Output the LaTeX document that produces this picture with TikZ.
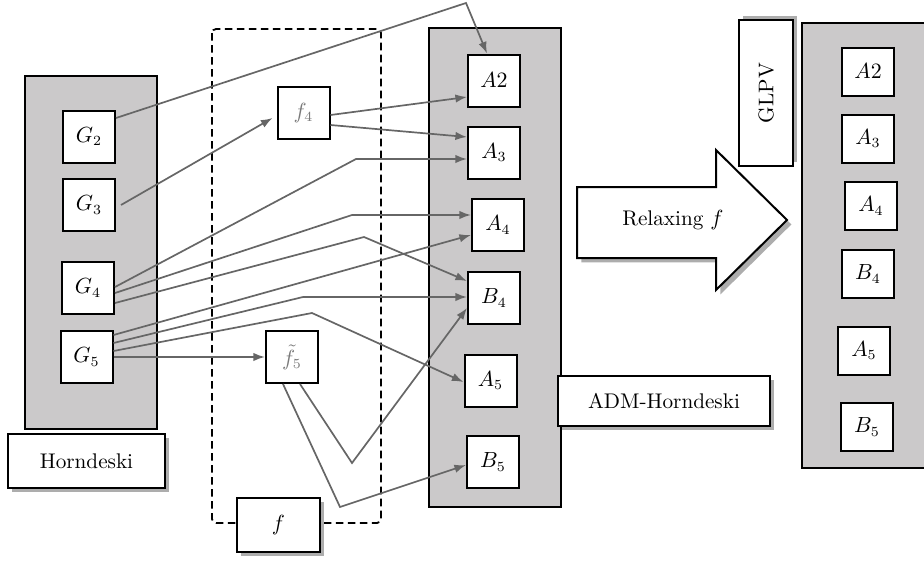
\documentclass[tikz,border=0pt]{standalone}
\usetikzlibrary{shadows,arrows.meta,calc}
\definecolor{panelgray}{HTML}{CBC9CA}
\definecolor{conngray}{HTML}{666666}
\definecolor{fgray}{HTML}{7A7A7A}
\tikzset{
  every node/.style={font=\fontsize{10.6pt}{12.7pt}\selectfont},
  panelbox/.style={draw=black, fill=panelgray, line width=0.9pt},
  vbox/.style={draw=black, fill=white, line width=1pt, minimum width=26pt, minimum height=26pt, inner sep=0pt},
  rbox/.style={vbox, minimum height=24pt},
  shad/.style={drop shadow={shadow xshift=2.2pt, shadow yshift=-2.2pt, fill=black!32, opacity=1}},
  upshad/.style={drop shadow={shadow xshift=2.2pt, shadow yshift=2.2pt, fill=black!32, opacity=1}},
  labelbox/.style={draw=black, fill=white, line width=1pt, inner sep=0pt, shad},
  cline/.style={draw=conngray, line width=0.85pt},
  carrow/.style={cline, -{Latex[length=5.8pt,width=4.2pt]}},
  dashbox/.style={draw=black, line width=0.9pt, dash pattern=on 3.8pt off 2.2pt, rounded corners=2pt},
}
\begin{document}
\begin{tikzpicture}[x=0.5pt,y=-0.5pt]
\useasboundingbox (0,0) rectangle (924,562);

% panels
\path[panelbox] (25,76) rectangle (157,429);
\path[panelbox] (429,28) rectangle (561,507);
\path[fill=panelgray] (802,23) rectangle (930,468);
\draw[line width=0.9pt] (930,23) -- (802,23) -- (802,468) -- (930,468);

% dashed group
\path[dashbox] (212,29) rectangle (381,523);

% Horndeski nodes
\node[vbox] (G2) at (89,136.5) {$G_2$};
\node[vbox] (G3) at (89,205) {$G_3$};
\node[vbox] (G4) at (88,288) {$G_4$};
\node[vbox] (G5) at (86.5,357) {$G_5$};
\node[labelbox, minimum width=78.5pt, minimum height=27pt] (horn) at (86.5,461) {Horndeski};

% f nodes
\node[vbox, text=fgray] (f4) at (303.5,113) {$f_4$};
\node[vbox, text=fgray] (f5) at (292,357) {$\tilde{f}_5$};
\node[labelbox, minimum width=41.5pt, minimum height=27pt] (f) at (278.5,525) {$f$};

% ADM nodes
\node[vbox] (A2) at (494,80.5) {$A2$};
\node[vbox] (A3) at (494,152.5) {$A_3$};
\node[vbox] (A4) at (498,225) {$A_4$};
\node[vbox] (B4) at (494,298) {$B_4$};
\node[vbox] (A5) at (490.5,380.5) {$A_5$};
\node[vbox] (B5) at (493,462) {$B_5$};
\node[labelbox, minimum width=106pt, minimum height=25pt] (adm) at (664,401) {ADM-Horndeski};

% GLPV nodes
\node[rbox] (gA2) at (868,71.5) {$A2$};
\node[rbox] (gA3) at (868,138.5) {$A_3$};
\node[rbox] (gA4) at (871,206) {$A_4$};
\node[rbox] (gB4) at (868,274) {$B_4$};
\node[rbox] (gA5) at (864,350.5) {$A_5$};
\node[rbox] (gB5) at (867,427) {$B_5$};
\node[draw=black, fill=white, line width=1pt, inner sep=0pt, upshad, rotate=90, minimum width=73pt, minimum height=27pt] (glpv) at (766,93) {GLPV};

% big arrow
\path[draw=black, fill=white, line width=1pt, shad]
  (577,187) -- (716,187) -- (716,150) -- (787,220) -- (716,290) -- (716,258) -- (577,258) -- cycle;
\node (relax) at (673,220) {Relaxing $f$};

% connectors
\coordinate (p1) at (466,3);
\draw[carrow] ([yshift=9.25pt]G2.east) -- (p1) -- ([xshift=-3.5pt]A2.north);
\draw[carrow] ([xshift=2.5pt]G3.east) -- ([xshift=-2pt,yshift=-2.5pt]f4.west);
\draw[carrow] ([yshift=-1pt]f4.east) -- ([yshift=-8.25pt]A2.west);
\draw[carrow] ([yshift=-6pt]f4.east) -- ([yshift=7.75pt]A3.west);

\coordinate (p2) at (356,159);
\coordinate (p3) at (352,215);
\coordinate (p4) at (364,237);
\draw[carrow] ([yshift=0.5pt]G4.east) -- (p2) -- ([yshift=-3.25pt]A3.west);
\draw[carrow] ([yshift=-2.5pt]G4.east) -- (p3) -- ([yshift=5pt]A4.west);
\draw[carrow] ([yshift=-7.5pt]G4.east) -- (p4) -- ([yshift=8.5pt]B4.west);

\coordinate (p5) at (303,297);
\coordinate (p6) at (312,313);
\draw[carrow] ([yshift=11pt]G5.east) -- ([yshift=-5pt]A4.west);
\draw[carrow] ([yshift=7pt]G5.east) -- (p5) -- ([yshift=0.5pt]B4.west);
\draw[carrow] ([yshift=3pt]G5.east) -- (p6) -- ([yshift=-0.75pt]A5.west);
\draw[carrow] (G5.east) -- (f5.west);

\coordinate (p7) at (352,463);
\coordinate (p8) at (340,507);
\draw[carrow] ([xshift=4pt]f5.south) -- (p7) -- ([yshift=-5pt]B4.west);
\draw[carrow] ([xshift=-4.5pt]f5.south) -- (p8) -- ([yshift=-1.5pt]B5.west);
\end{tikzpicture}
\end{document}
